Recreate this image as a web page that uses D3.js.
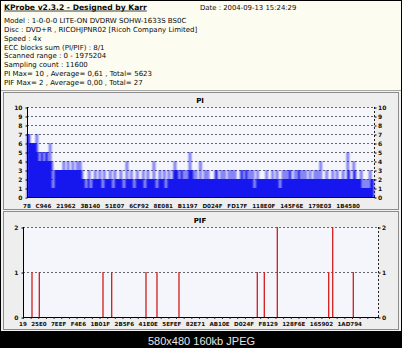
<!DOCTYPE html>
<html>
<head>
<meta charset="utf-8">
<script src="https://cdn.jsdelivr.net/npm/d3@7"></script>
<style>
  html, body { margin: 0; padding: 0; background: #000; }
  svg { display: block; }
</style>
</head>
<body>
<svg id="chart" width="402" height="348"></svg>
<script>
// ---- report header ----
const headerTitle = "KProbe v2.3.2 - Designed by Karr";
const headerDate = "Date : 2004-09-13 15:24:29";
const headerLines = [
  "Model : 1-0-0-0 LITE-ON DVDRW SOHW-1633S BS0C",
  "Disc : DVD+R , RICOHJPNR02 [Ricoh Company Limited]",
  "Speed : 4x",
  "ECC blocks sum (PI/PIF) : 8/1",
  "Scanned range : 0 - 1975204",
  "Sampling count : 11600",
  "PI Max= 10 , Average= 0,61 , Total= 5623",
  "PIF Max= 2 , Average= 0,00 , Total= 27"
];
const footerText = "580x480 160kb JPEG";

// ---- PI errors, one value per group of samples across the scan ----
const piValues = [
  7,7,6,6,6,6,7,5,4,5,
  5,4,5,5,4,6,4,1,3,3,
  3,3,3,3,4,3,3,4,3,3,
  4,3,3,4,3,4,3,2,2,1,
  2,3,1,2,2,3,2,2,3,2,
  1,3,2,2,2,3,2,1,3,2,
  2,2,3,2,1,2,4,2,2,3,
  2,1,2,3,2,2,2,3,1,2,
  3,2,2,2,4,2,1,2,3,2,
  2,3,1,2,3,2,2,3,4,3,
  3,2,3,3,2,3,2,3,5,3,
  3,2,3,2,2,4,2,2,3,2,
  3,2,2,2,2,3,3,2,2,3,
  2,3,2,2,3,2,3,2,3,2,
  2,2,3,3,2,3,3,2,3,2,
  3,1,2,3,2,2,2,2,2,3,
  2,2,2,3,2,2,3,2,1,2,
  3,2,3,2,3,3,2,2,3,2,
  3,3,2,3,2,3,2,2,3,2,
  2,3,2,3,2,4,2,2,2,3,
  2,2,2,3,2,2,3,2,2,2,
  3,2,2,5,3,2,2,4,3,2,
  2,2,3,1,2,1,2,1,3,2,
  2
];
const piTickLabels = ["78", "C946", "21962", "3B140", "51E07", "6CF92", "8E081", "B1197",
                      "D024F", "FD17F", "118E0F", "145F6E", "179E03", "1B4580"];
const piAxisMax = 10;

// ---- PIF errors: sample number and count ----
const sampleCount = 11600;
const pifSample = [294, 533, 2614, 2898, 4019, 4378, 5097, 7656, 7885, 8310, 9989, 10120, 10793];
const pifValue  = [1,   1,   1,    1,    1,    1,    1,    1,    1,    2,    1,    2,     1];
const pifTickLabels = ["19", "25E0", "7EEF", "F4E6", "1B01F", "2B5F6", "41E0E", "5EFEF",
                       "82E71", "AB10E", "D024F", "F8129", "128F6E", "165902", "1AD794"];
const pifAxisMax = 2;

// ---- drawing ----
const W = 402, H = 348;
const uiFont = "'DejaVu Sans', Verdana, sans-serif";
const svg = d3.select("#chart");

// slight horizontal softening of the dense PI columns
const defs = svg.append("defs");
defs.append("filter").attr("id", "hsoft")
  .attr("x", "-2%").attr("y", "-2%").attr("width", "104%").attr("height", "104%")
  .append("feGaussianBlur").attr("stdDeviation", "0.8 0");

svg.append("rect").attr("width", W).attr("height", H).attr("fill", "#000");
svg.append("rect").attr("x", 1).attr("y", 1).attr("width", 400).attr("height", 330).attr("fill", "#f1f1f1");

// header block
svg.append("rect").attr("x", 1).attr("y", 1).attr("width", 400).attr("height", 89).attr("fill", "#fcfcf1");
svg.append("line").attr("x1", 1).attr("x2", 401).attr("y1", 90.5).attr("y2", 90.5).attr("stroke", "#a8a8a8");

const head = svg.append("g").attr("font-family", uiFont).attr("fill", "#0a0a0a");
const titleText = head.append("text").attr("x", 4).attr("y", 9.5)
  .attr("font-size", 7.6).attr("font-weight", "bold").text(headerTitle);
const tw = titleText.node().getComputedTextLength();
head.append("line").attr("x1", 4).attr("x2", 4 + tw).attr("y1", 11).attr("y2", 11)
  .attr("stroke", "#111").attr("stroke-width", 0.8);
head.append("text").attr("x", 200).attr("y", 9.5).attr("font-size", 6.9).text(headerDate);
head.selectAll("text.line").data(headerLines).join("text")
  .attr("class", "line")
  .attr("x", 4)
  .attr("y", (d, i) => 23 + i * 8.86)
  .attr("font-size", 7)
  .text(d => d);

// panel frames
function panel(y, h) {
  svg.append("rect").attr("x", 3.5).attr("y", y + 0.5).attr("width", 395).attr("height", h)
    .attr("fill", "#eeeeee").attr("stroke", "#8c8c8c");
}
panel(92, 117);
panel(211, 118);

// shared plot frame: background, dashed grid, axes and value labels on both sides
function plotFrame(x0, x1, y, maxV) {
  const g = svg.append("g");
  g.append("rect").attr("x", x0).attr("y", y(maxV)).attr("width", x1 - x0).attr("height", y(0) - y(maxV))
    .attr("fill", "#f5f5fc");
  const levels = d3.range(1, maxV + 1);
  g.selectAll("line.grid").data(levels).join("line")
    .attr("class", "grid")
    .attr("x1", x0).attr("x2", x1)
    .attr("y1", d => y(d) + 0.5).attr("y2", d => y(d) + 0.5)
    .attr("stroke", "#444").attr("stroke-dasharray", "2,2").attr("stroke-width", 0.8);
  g.append("line").attr("x1", x1 + 0.5).attr("x2", x1 + 0.5).attr("y1", y(maxV)).attr("y2", y(0))
    .attr("stroke", "#222").attr("stroke-dasharray", "2,2");
  return g;
}
function plotAxes(g, x0, x1, y, maxV, labelGap) {
  g.append("line").attr("x1", x0 + 0.5).attr("x2", x0 + 0.5).attr("y1", y(maxV)).attr("y2", y(0) + 0.5)
    .attr("stroke", "#000");
  g.append("line").attr("x1", x0).attr("x2", x1 + 1).attr("y1", y(0) + 0.5).attr("y2", y(0) + 0.5)
    .attr("stroke", "#000");
  const left = d3.axisLeft(y).tickValues(d3.range(0, maxV + 1)).tickSize(2).tickPadding(labelGap).tickFormat(d3.format("d"));
  const right = d3.axisRight(y).tickValues(d3.range(0, maxV + 1)).tickSize(2).tickPadding(1.5).tickFormat(d3.format("d"));
  [[left, x0 + 0.5], [right, x1 + 0.5]].forEach(([ax, tx]) => {
    const a = g.append("g").attr("transform", `translate(${tx},0.5)`).call(ax);
    a.select(".domain").remove();
    a.selectAll("line").attr("stroke", "#000");
    a.selectAll("text").attr("font-family", uiFont).attr("font-size", 6).attr("font-weight", "bold").attr("fill", "#111");
  });
}
// spread tick labels along the axis between two ends with equal gaps
function categoryLabels(labels, xStart, xEnd, baseline) {
  const t = svg.append("g").attr("font-family", uiFont).attr("font-size", 5.6)
    .attr("font-weight", "bold").attr("fill", "#111");
  const nodes = t.selectAll("text").data(labels).join("text").attr("y", baseline).text(d => d);
  const widths = nodes.nodes().map(n => n.getComputedTextLength());
  const gap = (xEnd - xStart - d3.sum(widths)) / (labels.length - 1);
  let cx = xStart;
  nodes.attr("x", (d, i) => { const x = cx; cx += widths[i] + gap; return x; });
}

// ---- PI plot ----
const piX = d3.scaleLinear().domain([0, piValues.length]).range([27, 374]);
const piY = d3.scaleLinear().domain([0, piAxisMax]).range([197, 107]);
const piG = plotFrame(27, 374, piY, piAxisMax);
const piSteps = piValues.map((v, i) => [i, v]).concat([[piValues.length, piValues[piValues.length - 1]]]);
piG.append("path")
  .datum(piSteps)
  .attr("fill", "#1212ee")
  .attr("filter", "url(#hsoft)")
  .attr("d", d3.area().curve(d3.curveStepAfter)
    .x(d => piX(d[0])).y0(piY(0)).y1(d => piY(d[1])));
plotAxes(piG, 27, 374, piY, piAxisMax, 3);
svg.append("text").attr("x", 200).attr("y", 103).attr("text-anchor", "middle")
  .attr("font-family", uiFont).attr("font-size", 7).attr("font-weight", "bold").text("PI");
categoryLabels(piTickLabels, 23, 360, 207.5);

// ---- PIF plot ----
const pifX = d3.scaleLinear().domain([0, sampleCount]).range([23, 378]);
const pifY = d3.scaleLinear().domain([0, pifAxisMax]).range([317, 227]);
const pifG = plotFrame(23, 378, pifY, pifAxisMax);
pifG.selectAll("line.pif").data(pifSample.map((s, i) => [s, pifValue[i]])).join("line")
  .attr("class", "pif")
  .attr("x1", d => pifX(d[0])).attr("x2", d => pifX(d[0]))
  .attr("y1", pifY(0)).attr("y2", d => pifY(d[1]))
  .attr("stroke", "#d21c1c").attr("stroke-width", 1.3);
plotAxes(pifG, 23, 378, pifY, pifAxisMax, 3);
// minor ticks along the scan axis
pifG.append("g").attr("transform", `translate(0,${pifY(0) + 0.5})`)
  .call(d3.axisBottom(pifX).tickValues(d3.range(0, sampleCount + 1, 250)).tickSize(1.5).tickFormat(""))
  .call(a => a.select(".domain").remove())
  .call(a => a.selectAll("line").attr("stroke", "#333"));
svg.append("text").attr("x", 200).attr("y", 223).attr("text-anchor", "middle")
  .attr("font-family", uiFont).attr("font-size", 7).attr("font-weight", "bold").text("PIF");
categoryLabels(pifTickLabels, 19, 362, 326);

// ---- image caption strip ----
svg.append("text").attr("x", 148).attr("y", 344.5)
  .attr("font-family", "'Liberation Sans', Arial, sans-serif").attr("font-size", 11)
  .attr("fill", "#e6e6e6").text(footerText);
</script>
</body>
</html>
